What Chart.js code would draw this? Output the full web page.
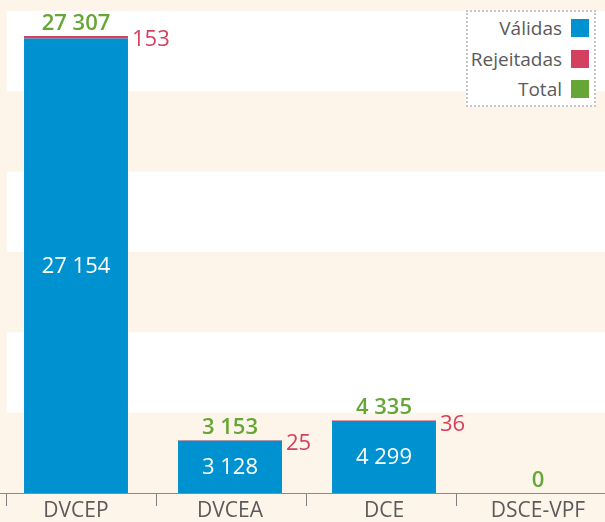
<!DOCTYPE html>
<html>
<head>
<meta charset="utf-8">
<script src="https://cdn.jsdelivr.net/npm/chart.js@4"></script>
<style>
html,body{margin:0;padding:0;background:#fdf5ea;overflow:hidden;width:605px;height:522px;font-family:"Open Sans",sans-serif;}
#wrap{position:absolute;left:-1px;top:0;width:616px;height:522px;}
#legend{position:absolute;left:466px;top:10px;width:126px;height:92px;background:#fff;border:2px dotted #c6c6c6;padding-top:1px;box-sizing:content-box;}
.row{display:flex;justify-content:flex-end;align-items:center;height:30.5px;padding-right:5px;color:#5a5a5a;font-size:19px;}
.sw{width:18px;height:18px;margin-left:9px;}
</style>
</head>
<body>
<div id="wrap"><canvas id="c"></canvas></div>
<div id="legend"></div>
<script>
const categories = ['DVCEP', 'DVCEA', 'DCE', 'DSCE-VPF'];
const validas = [27154, 3128, 4299, 0];
const rejeitadas = [153, 25, 36, 0];
const totals = [27307, 3153, 4335, 0];
const seriesNames = ['Válidas', 'Rejeitadas', 'Total'];
const yMax = 28800;
const yStep = 4800;

const BLUE = '#0092d0', RED = '#d4405f', GREEN = '#66a637';
const seriesColors = [BLUE, RED, GREEN];
const TEXT = '#5a5a5a';
const FONT = '"Open Sans", sans-serif';

const fmt = n => String(n).replace(/\B(?=(\d{3})+(?!\d))/g, ' ');

// legend
const lg = document.getElementById('legend');
seriesNames.forEach((name, i) => {
  const r = document.createElement('div');
  r.className = 'row';
  const t = document.createElement('span');
  t.textContent = name;
  const s = document.createElement('span');
  s.className = 'sw';
  s.style.background = seriesColors[i];
  r.appendChild(t); r.appendChild(s);
  lg.appendChild(r);
});

const bandsPlugin = {
  id: 'bands',
  beforeDraw(chart) {
    const ctx = chart.ctx, y = chart.scales.y, x2 = chart.scales.x2, a = chart.chartArea;
    const left = x2.getPixelForValue(0);
    ctx.save();
    ctx.fillStyle = '#ffffff';
    for (let v = 0, k = 0; v < yMax; v += yStep, k++) {
      if (k % 2 === 1) {
        const top = y.getPixelForValue(v + yStep), bot = y.getPixelForValue(v);
        ctx.fillRect(left, top, a.right - left, bot - top);
      }
    }
    ctx.restore();
  }
};

const labelsPlugin = {
  id: 'vlabels',
  afterDatasetsDraw(chart) {
    const ctx = chart.ctx;
    const m0 = chart.getDatasetMeta(0), m1 = chart.getDatasetMeta(1), m2 = chart.getDatasetMeta(2);
    ctx.save();
    m0.data.forEach((el, i) => {
      if (validas[i] > 0) {
        ctx.fillStyle = '#ffffff';
        ctx.font = '22px ' + FONT;
        ctx.textAlign = 'center';
        ctx.textBaseline = 'middle';
        ctx.fillText(fmt(validas[i]), el.x, (el.y + el.base) / 2 + 1);
      }
    });
    m1.data.forEach((el, i) => {
      if (rejeitadas[i] > 0) {
        ctx.fillStyle = RED;
        ctx.font = '22px ' + FONT;
        ctx.textAlign = 'left';
        ctx.textBaseline = 'middle';
        ctx.fillText(fmt(rejeitadas[i]), el.x + el.width / 2 + 4, el.y + 4);
      }
    });
    m2.data.forEach((el, i) => {
      ctx.fillStyle = GREEN;
      ctx.font = '600 22px ' + FONT;
      ctx.textAlign = 'center';
      ctx.textBaseline = 'alphabetic';
      ctx.fillText(fmt(totals[i]), el.x, el.y - 6);
    });
    ctx.restore();
  }
};

new Chart(document.getElementById('c'), {
  data: {
    labels: categories,
    datasets: [
      { type: 'bar', label: seriesNames[0], data: validas, backgroundColor: BLUE, xAxisID: 'x', yAxisID: 'y',
        categoryPercentage: 1, barPercentage: 0.675, stack: 's' },
      { type: 'bar', label: seriesNames[1], data: rejeitadas, backgroundColor: RED, xAxisID: 'x', yAxisID: 'y',
        categoryPercentage: 1, barPercentage: 0.675, stack: 's' },
      { type: 'line', label: seriesNames[2], data: totals, borderColor: GREEN, backgroundColor: GREEN,
        showLine: false, pointRadius: 0, xAxisID: 'x', yAxisID: 'y', stack: 't' }
    ]
  },
  options: {
    responsive: true,
    maintainAspectRatio: false,
    animation: false,
    layout: { padding: { top: 11, left: 0, right: 0, bottom: 0 } },
    plugins: { legend: { display: false }, tooltip: { enabled: false } },
    scales: {
      x: {
        type: 'category', position: 'bottom', stacked: true, weight: 1,
        grid: { display: false }, border: { display: false },
        ticks: { color: TEXT, font: { family: FONT, size: 21 }, padding: -3, maxRotation: 0, autoSkip: false },
        afterFit: s => { s.height = 29; }
      },
      x2: {
        type: 'linear', position: 'bottom', weight: 0,
        min: -7.7 / 150, max: (616 - 7.7) / 150,
        grid: { drawOnChartArea: false, drawTicks: true, tickLength: 13, color: '#808080', lineWidth: 1 },
        border: { display: true, color: '#8a8a8a', width: 1 },
        ticks: { display: false, stepSize: 1, includeBounds: false },
        afterFit: s => { s.height = 0; }
      },
      y: {
        stacked: true, display: false, min: 0, max: yMax,
        ticks: { stepSize: yStep }
      }
    }
  },
  plugins: [bandsPlugin, labelsPlugin]
});
</script>
</body>
</html>
